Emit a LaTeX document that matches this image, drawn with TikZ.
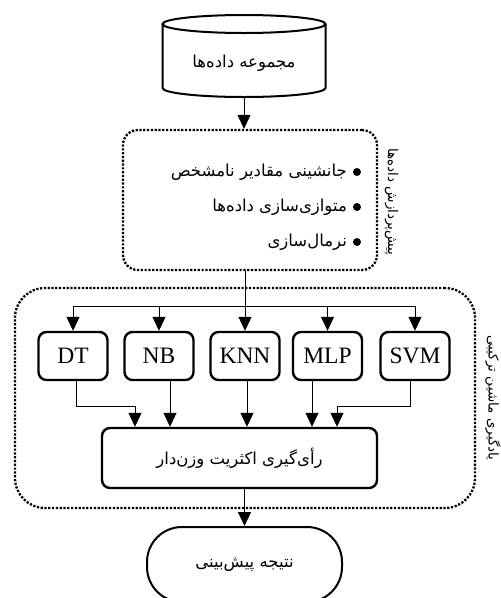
\documentclass[tikz,border=0pt]{standalone}
\usepackage{fontspec}
\setmainfont{Liberation Serif}
\newfontfamily\arabicfont[Script=Arabic]{DejaVu Sans}
\TeXXeTstate=1
\usetikzlibrary{arrows.meta}
\begin{document}
\begin{tikzpicture}[x=1pt,y=1pt,
  arr/.style={-{Triangle[width=13pt,length=14pt]}, line width=1pt},
  ln/.style={line width=1pt},
  dotbox/.style={draw, line width=2.3pt, dash pattern=on 2.2pt off 1.6pt, rounded corners=#1, inner sep=0pt},
  algbox/.style={draw, line width=2.4pt, rounded corners=8pt, minimum width=69pt, minimum height=48pt, inner sep=0pt, font=\fontsize{23.5}{26}\selectfont},
  ar/.style={font=\arabicfont\fontsize{16.5}{20}\selectfont, inner sep=0pt},
  side/.style={font=\arabicfont\fontsize{13.5}{15}\selectfont, inner sep=0pt},
]
\useasboundingbox (0,0) rectangle (501,-598);

% data set (cylinder)
\node[minimum width=163pt, minimum height=82pt, inner sep=0pt] (data) at (244,-56) {};
\draw[line width=2pt] (244,-24) ellipse[x radius=81.5, y radius=9];
\draw[line width=2pt] (162.5,-24) -- (162.5,-88) arc[start angle=180, end angle=360, x radius=81.5, y radius=9] -- (325.5,-24);
\node[ar] (datalabel) at (244,-63) {\beginR مجموعه داده^^^^200cها\endR};

% preprocessing
\node[dotbox=15pt, minimum width=254pt, minimum height=140pt] (pre) at (250,-200) {};
\draw[arr] (data.south) -- (data.south |- pre.north);
\node[ar, anchor=east] (i1) at (347,-172) {\beginR جانشینی مقادیر نامشخص\endR};
\node[ar, anchor=east] (i2) at (347,-207) {\beginR متوازی^^^^200cسازی داده^^^^200cها\endR};
\node[ar, anchor=east] (i3) at (347,-242) {\beginR نرمال^^^^200cسازی\endR};
\node[circle, fill, minimum size=8pt, inner sep=0pt] (b1) at (357,-172) {};
\node[circle, fill, minimum size=8pt, inner sep=0pt] (b2) at (357,-207) {};
\node[circle, fill, minimum size=8pt, inner sep=0pt] (b3) at (357,-242) {};
\node[side, rotate=-90, anchor=base] (prelabel) at (388,-202) {\beginR پیش^^^^200cپردازش داده^^^^200cها\endR};

% ensemble
\node[dotbox=30pt, minimum width=460pt, minimum height=220pt] (ml) at (245,-398) {};
\node[side, rotate=-90, anchor=base] (mllabel) at (488.5,-398) {\beginR یادگیری ماشین ترکیبی\endR};

\node[algbox] (dt) at (73,-356) {DT};
\node[algbox] (nb) at (159,-356) {NB};
\node[algbox] (knn) at (245,-356) {KNN};
\node[algbox] (mlp) at (327.5,-356) {MLP};
\node[algbox] (svm) at (415,-356) {SVM};

\coordinate (br) at (245,-306);
\draw[arr] (br |- pre.south) -- (knn.north);
\draw[ln] (dt.north |- br) -- (svm.north |- br);
\foreach \n in {dt,nb,mlp,svm} \draw[arr] (\n.north |- br) -- (\n.north);

\node[draw, line width=2.4pt, rounded corners=8pt, minimum width=275pt, minimum height=60pt, inner sep=0pt, ar] (vote) at (239.5,-458) {\beginR رأی^^^^200cگیری اکثریت وزن^^^^200cدار\endR};

\draw[arr] ([xshift=3pt]dt.south) -- ++(0,-25) -| ([xshift=-104.5pt]vote.north);
\draw[arr] ([xshift=11pt]nb.south) -- ([xshift=11pt]nb.south |- vote.north);
\draw[arr] ([xshift=2pt]knn.south) -- ([xshift=2pt]knn.south |- vote.north);
\draw[arr] ([xshift=-15.5pt]mlp.south) -- ([xshift=-15.5pt]mlp.south |- vote.north);
\draw[arr] ([xshift=-5pt]svm.south) -- ++(0,-25) -| ([xshift=97.5pt]vote.north);

% result
\node[draw, line width=2pt, rounded corners=35pt, minimum width=195pt, minimum height=75pt, inner sep=0pt, ar] (final) at (244.5,-564.5) {\beginR نتیجه پیش^^^^200cبینی\endR};
\draw[arr] (vote.south -| final.north) -- (final.north);
\end{tikzpicture}
\end{document}
